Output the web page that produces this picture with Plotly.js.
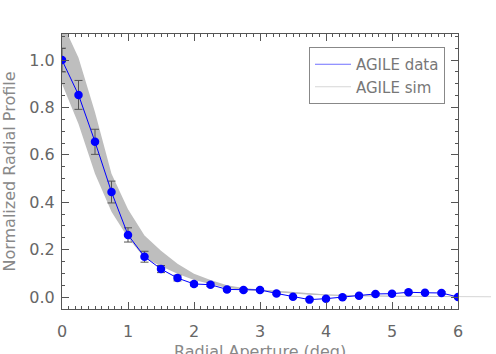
<!DOCTYPE html>
<html>
<head>
<meta charset="utf-8">
<script src="https://cdn.plot.ly/plotly-3.0.1.min.js"></script>
<style>
  html, body { margin: 0; padding: 0; background: #fff; }
  #myDiv { width: 496px; height: 354px; }
</style>
</head>
<body>
<div id="myDiv"></div>
<script>
// radial aperture grid (deg)
var aperture = [0, 0.25, 0.5, 0.75, 1.0, 1.25, 1.5, 1.75, 2.0, 2.25, 2.5, 2.75, 3.0,
  3.25, 3.5, 3.75, 4.0, 4.25, 4.5, 4.75, 5.0, 5.25, 5.5, 5.75, 6.0];

// AGILE data
var dataProfile = [1.0, 0.853, 0.655, 0.443, 0.262, 0.170, 0.118, 0.080, 0.055, 0.052, 0.032, 0.030, 0.030,
  0.015, 0.001, -0.011, -0.007, -0.001, 0.005, 0.013, 0.014, 0.020, 0.018, 0.017, 0.0];
var dataErr = [0.05, 0.061, 0.053, 0.046, 0.030, 0.023, 0.015, 0.012, 0.008, 0.008, 0.006, 0.006, 0.005,
  0.005, 0.005, 0.005, 0.005, 0.005, 0.005, 0.005, 0.005, 0.005, 0.005, 0.005, 0.005];

// AGILE sim envelope
var simHigh = [1.16, 1.01, 0.78, 0.52, 0.37, 0.26, 0.195, 0.14, 0.098, 0.072, 0.05, 0.038, 0.032,
  0.026, 0.02, 0.015, 0.011, 0.009, 0.007, 0.006, 0.005, 0.004, 0.004, 0.003, 0.003];
var simLow = [0.90, 0.73, 0.52, 0.36, 0.25, 0.165, 0.13, 0.098, 0.072, 0.055, 0.038, 0.03, 0.026,
  0.02, 0.015, 0.01, 0.006, 0.004, 0.003, 0.002, 0.001, 0.001, 0.0, 0.0, 0.0];

// AGILE sim mean (runs a bit past 6 deg)
var simAperture = [0, 0.25, 0.5, 0.75, 1.0, 1.25, 1.5, 1.75, 2.0, 2.25, 2.5, 2.75, 3.0,
  3.25, 3.5, 3.75, 4.0, 4.25, 4.5, 4.75, 5.0, 5.25, 5.5, 5.75, 6.0, 6.25, 6.5];
var simProfile = [1.03, 0.87, 0.65, 0.44, 0.31, 0.21, 0.16, 0.12, 0.085, 0.063, 0.044, 0.034, 0.029,
  0.023, 0.018, 0.013, 0.009, 0.007, 0.005, 0.004, 0.003, 0.003, 0.002, 0.002, 0.002, 0.001, 0.001];

var FONT = 'DejaVu Sans, sans-serif';
var AXCOL = '#555555';

// sim mean goes first so the band covers it
var sim = {
  x: simAperture, y: simProfile, type: 'scatter', mode: 'lines',
  name: 'AGILE sim', line: {width: 1, color: '#d6d6d6'},
  xaxis: 'x', yaxis: 'y', legendrank: 2
};
var bandLow = {
  x: aperture, y: simLow, type: 'scatter', mode: 'lines',
  line: {width: 0, color: '#bebebe'}, xaxis: 'x', yaxis: 'y',
  showlegend: false, hoverinfo: 'skip'
};
var bandHigh = {
  x: aperture, y: simHigh, type: 'scatter', mode: 'lines',
  fill: 'tonexty', fillcolor: '#bebebe',
  line: {width: 0, color: '#bebebe'}, xaxis: 'x', yaxis: 'y',
  showlegend: false, hoverinfo: 'skip'
};
var agile = {
  x: aperture, y: dataProfile, type: 'scatter', mode: 'lines+markers',
  line: {width: 1, color: '#0000ff'},
  marker: {size: 8.5, color: '#0000ff'},
  error_y: {type: 'data', array: dataErr, color: '#555555', thickness: 1, width: 4},
  xaxis: 'x2', yaxis: 'y', showlegend: false
};
var agileKey = {
  x: [null], y: [null], type: 'scatter', mode: 'lines',
  name: 'AGILE data', line: {width: 1, color: '#7070ff'},
  xaxis: 'x2', yaxis: 'y', legendrank: 1
};

var data = [sim, bandLow, bandHigh, agile, agileKey];

var mainEnd = 396 / 434;

var layout = {
  width: 496, height: 354,
  margin: {l: 62, r: 0, t: 34, b: 45},
  paper_bgcolor: '#ffffff', plot_bgcolor: 'rgba(0,0,0,0)',
  font: {family: FONT, size: 16, color: '#666666'},
  showlegend: true,
  legend: {
    x: (309 - 62) / 434, y: 1 - (47 - 34) / 275, xanchor: 'left', yanchor: 'top',
    bgcolor: '#ffffff', bordercolor: '#888888', borderwidth: 1,
    font: {family: FONT, size: 15, color: '#777777'},
    traceorder: 'normal', tracegroupgap: 0, itemwidth: 36
  },
  xaxis: {
    domain: [0, 1], range: [0, 6 / mainEnd], anchor: 'y',
    visible: false, showgrid: false, zeroline: false
  },
  xaxis2: {
    domain: [0, mainEnd], range: [0, 6], anchor: 'y',
    showgrid: false, zeroline: false,
    showline: true, linecolor: AXCOL, linewidth: 1, mirror: 'ticks',
    ticks: 'inside', ticklen: 7, tickcolor: AXCOL, dtick: 1, tick0: 0,
    minor: {ticks: 'inside', ticklen: 3, dtick: 0.1, tickcolor: AXCOL, showgrid: false},
    tickfont: {family: FONT, size: 16, color: '#666666'},
    ticklabelstandoff: 8,
    automargin: false
  },
  yaxis: {
    range: [-0.0506, 1.11], anchor: 'x2',
    showgrid: false, zeroline: false,
    showline: true, linecolor: AXCOL, linewidth: 1, mirror: 'ticks',
    ticks: 'inside', ticklen: 7, tickcolor: AXCOL, dtick: 0.2, tick0: 0,
    tickformat: '.1f',
    minor: {ticks: 'inside', ticklen: 3, dtick: 0.05, tickcolor: AXCOL, showgrid: false},
    tickfont: {family: FONT, size: 16, color: '#666666'},
    ticklabelstandoff: 3,
    title: {text: 'Normalized Radial Profile', font: {family: FONT, size: 16, color: '#888888'}, standoff: 10},
    automargin: false
  },
  annotations: [{
    text: 'Radial Aperture (deg)', xref: 'x2 domain', yref: 'paper',
    x: 0.5, y: 0, xanchor: 'center', yanchor: 'top', yshift: -31,
    showarrow: false, font: {family: FONT, size: 16, color: '#888888'}
  }]
};

Plotly.newPlot('myDiv', data, layout, {displayModeBar: false, staticPlot: true});
</script>
</body>
</html>
